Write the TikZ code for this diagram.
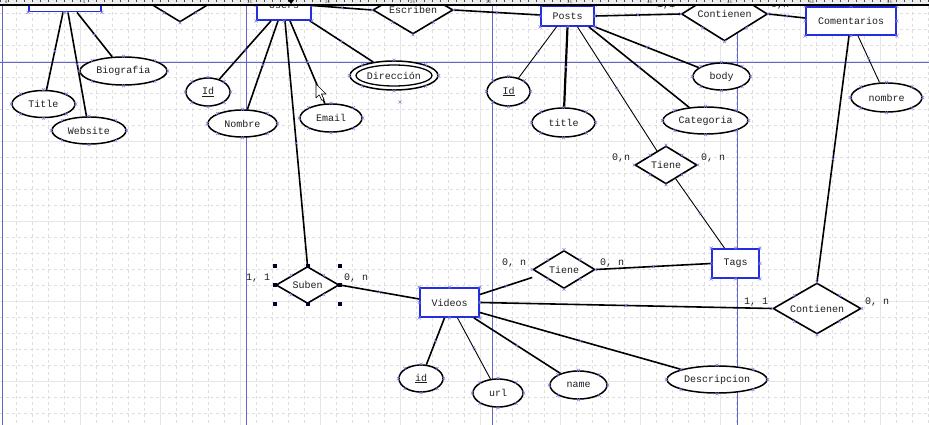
\documentclass[tikz,border=0pt]{standalone}
\usepackage{fontspec}
\setmonofont{Liberation Mono}
\usetikzlibrary{shapes.geometric,calc,decorations.markings}
\definecolor{entblue}{RGB}{35,45,225}
\definecolor{guide}{RGB}{100,100,205}
\definecolor{gridc}{RGB}{222,222,222}
\definecolor{gridm}{RGB}{230,230,230}
\definecolor{mkc}{RGB}{125,125,225}
\definecolor{txt}{RGB}{30,30,30}
\definecolor{rulerbg}{RGB}{238,238,238}

% small connection-point cross
\newcommand\xm[1]{\draw[mkc,line width=0.5pt] (#1) +(-1.5,-1.5) -- +(1.5,1.5) +(-1.5,1.5) -- +(1.5,-1.5);}
% crosses on the eight compass anchors of a shape
\newcommand\xmall[1]{\foreach \a in {north,south,east,west,north east,north west,south east,south west}{\xm{#1.\a}}}
% selection handle
\newcommand\hdl[1]{\fill[black!85!blue] (#1) +(-2,-2) rectangle +(2,2);}

\begin{document}
\begin{tikzpicture}[x=1pt,y=-1pt,
  font=\ttfamily\fontsize{10}{12}\selectfont, text=txt,
  entity/.style={rectangle,draw=entblue,line width=1.8pt,fill=white,inner sep=0pt},
  attr/.style={ellipse,draw=black,line width=1.5pt,fill=white,inner sep=0pt},
  rel/.style={diamond,draw=black,line width=1.6pt,fill=white,inner sep=0pt,aspect=1.6},
  midmark/.style={postaction={decorate},decoration={markings,mark=at position 0.5 with {\draw[mkc,line width=0.5pt] (-1.5,-1.5)--(1.5,1.5) (-1.5,1.5)--(1.5,-1.5);}}},
  link/.style={draw=black,line width=1.6pt,midmark},
  thinlink/.style={draw=black,line width=0.9pt,midmark},
  card/.style={inner sep=0pt},
]
\useasboundingbox (0,0) rectangle (929,425);
\begin{scope}
\clip (0,0) rectangle (929,425);
\fill[white] (0,0) rectangle (929,425);

% background grid
\foreach \x in {16,32,...,928} \draw[gridc,line width=0.5pt,dash pattern=on 3pt off 3pt] (\x,0) -- (\x,425);
\foreach \y in {13,29,...,424} \draw[gridc,line width=0.5pt,dash pattern=on 3pt off 3pt] (0,\y) -- (929,\y);
\foreach \x in {80,160,...,880} \draw[gridm,line width=0.7pt] (\x,0) -- (\x,425);
\foreach \y in {61,141,221,301,381} \draw[gridm,line width=0.7pt] (0,\y) -- (929,\y);

% guide lines
\foreach \x in {2.5,246,492,737} \draw[guide,line width=0.8pt] (\x,0) -- (\x,425);
\draw[guide,line width=0.8pt] (0,62) -- (929,62);

% entities
\node[entity,minimum width=72pt,minimum height=29pt] (e0) at (65,-3) {};
\node[entity,minimum width=54pt,minimum height=29pt] (users) at (284,5.5) {Users};
\node[entity,minimum width=53pt,minimum height=20pt] (posts) at (567.5,16) {Posts};
\node[entity,minimum width=90pt,minimum height=28pt] (coment) at (851,21) {Comentarios};
\node[entity,minimum width=59pt,minimum height=29pt] (videos) at (449.5,302.5) {Videos};
\node[entity,minimum width=47pt,minimum height=29pt] (tags) at (735.5,263.5) {Tags};

% relationships
\node[rel,minimum width=62pt,minimum height=38pt] (rtop) at (180,3) {Suben};
\node[rel,minimum width=80pt,minimum height=48pt] (escriben) at (413,10) {Escriben};
\node[rel,minimum width=86pt,minimum height=54pt] (contA) at (724.5,14) {Contienen};
\node[rel,minimum width=62pt,minimum height=38pt] (tieneA) at (666,165) {Tiene};
\node[rel,minimum width=62pt,minimum height=38pt] (tieneB) at (564,269.5) {Tiene};
\node[rel,minimum width=88pt,minimum height=51pt] (contB) at (817,308.5) {Contienen};
\node[rel,minimum width=63pt,minimum height=37pt] (suben) at (307.5,285) {Suben};

% attributes
\node[attr,minimum width=63pt,minimum height=27pt] (title) at (43.5,104) {Title};
\node[attr,minimum width=74pt,minimum height=27pt] (website) at (89,130.5) {Website};
\node[attr,minimum width=87pt,minimum height=28pt] (bio) at (123.5,71) {Biografia};
\node[attr,minimum width=44pt,minimum height=28pt] (idU) at (208,92) {\underline{Id}};
\node[attr,minimum width=69pt,minimum height=27pt] (nombreU) at (242.5,123.5) {Nombre};
\node[attr,minimum width=62pt,minimum height=28pt] (email) at (331,118) {Email};
\node[attr,minimum width=88pt,minimum height=29pt] (dir) at (394,75.5) {Dirección};
\draw[black,line width=1.3pt] (dir.center) ellipse (38 and 10.5);
\node[attr,minimum width=43pt,minimum height=29pt] (idP) at (508.5,91.5) {\underline{Id}};
\node[attr,minimum width=63pt,minimum height=29pt] (titleP) at (563.5,122.5) {title};
\node[attr,minimum width=57pt,minimum height=27pt] (body) at (721.5,76.5) {body};
\node[attr,minimum width=85pt,minimum height=27pt] (cat) at (705.5,120.5) {Categoria};
\node[attr,minimum width=71pt,minimum height=29pt] (nombreC) at (886.5,97.5) {nombre};
\node[attr,minimum width=44pt,minimum height=27pt] (idV) at (421,378.5) {\underline{id}};
\node[attr,minimum width=50pt,minimum height=28pt] (url) at (498,393) {url};
\node[attr,minimum width=57pt,minimum height=28pt] (name) at (578.5,385) {name};
\node[attr,minimum width=100pt,minimum height=27pt] (desc) at (717,379.5) {Descripcion};

% connectors
\draw[link] ([xshift=-2pt]e0.south) -- (title);
\draw[link] ([xshift=3pt]e0.south) -- (website);
\draw[link] ([xshift=12pt]e0.south) -- (bio);
\draw[link] ([xshift=-13pt]users.south) -- (idU);
\draw[link] ([xshift=-6pt]users.south) -- (nombreU);
\draw[link] ([xshift=1pt]users.south) -- (suben.north);
\draw[link] ([xshift=6pt]users.south) -- (email);
\draw[link] ([xshift=-2pt]users.south east) -- (dir);
\draw[link] (users.east) -- (escriben.west);
\draw[link] (escriben.east) -- ([yshift=1pt]posts.west);
\draw[link] (posts.east) -- (contA.west);
\draw[link] (contA.east) -- ([yshift=3pt]coment.west);
\draw[thinlink] ([xshift=-11pt]posts.south) -- (idP);
\draw[link,line width=2.2pt] (posts.south) -- (titleP);
\draw[link] (posts.south east) -- (body);
\draw[link] ([xshift=-6pt]posts.south east) -- (cat);
\draw[thinlink] ([xshift=10pt]posts.south) -- (tieneA);
\draw[thinlink] (tieneA) -- ([xshift=-11pt]tags.north);
\draw[thinlink] ([xshift=7pt]coment.south) -- (nombreC);
\draw[link] ([xshift=-2pt]coment.south) -- (contB.north);
\draw[link] (tags.west) -- (tieneB.east);
\draw[link] ([yshift=-8pt]tieneB.west) -- ([yshift=8pt]videos.east);
\draw[link] (videos.east) -- (contB.west);
\draw[link] (suben.east) -- ([yshift=3.5pt]videos.west);
\draw[link] ([xshift=-5pt]videos.south) -- (idV);
\draw[thinlink] ([xshift=8pt]videos.south) -- (url);
\draw[link] ([xshift=-6pt]videos.south east) -- (name);
\draw[link] ([yshift=-10pt]videos.east) -- (desc);

% cardinalities
\node[card] (cs1) at (258,278) {1, 1};
\node[card] (cs2) at (356,278) {0, n};
\node[card] (cb1) at (514,263) {0, n};
\node[card] (cb2) at (612,263) {0, n};
\node[card] (ca1) at (621,158) {0,n};
\node[card] (ca2) at (713,158) {0, n};
\node[card] (cc1) at (756,302) {1, 1};
\node[card] (cc2) at (877,302) {0, n};
\node[card] (ct1) at (666,5) {1,1};
\node[card] (ct2) at (780,5) {0,n};

% connection points
\foreach \n in {e0,users,posts,coment,videos,tags,rtop,escriben,contA,tieneA,tieneB,contB,suben,
  title,website,bio,idU,nombreU,email,dir,idP,titleP,body,cat,nombreC,idV,url,name,desc}{\xmall{\n}}
\xm{400,102}

% selection handles around the selected relationship
\hdl{suben.north} \hdl{suben.south} \hdl{suben.east} \hdl{suben.west}
\hdl{suben.west |- suben.north} \hdl{suben.east |- suben.north}
\hdl{suben.west |- suben.south} \hdl{suben.east |- suben.south}

% mouse pointer
\draw[fill=white,line width=0.6pt,line join=round] (316,84) -- ++(0,14) -- ++(3.2,-3.2) -- ++(2.6,5.6) -- ++(2.2,-1) -- ++(-2.6,-5.4) -- ++(4.6,0) -- cycle;

% ruler strip
\fill[rulerbg] (0,0) rectangle (929,5);
\foreach \x in {0,8,...,928} \draw[black!70,line width=0.4pt] (\x,0) -- (\x,2);
\foreach \x/\lab in {5/0,83/5,247/15,325/20,410/25,486/30,567/35,647/40,727/45,809/50,887/55}
  \node[anchor=west,inner sep=0pt,font=\ttfamily\fontsize{4}{4}\selectfont,text=black!75] (r\lab) at (\x,2.6) {\lab};
\fill[black] (288,0) -- (294,0) -- (291,4) -- cycle;
\draw[black,line width=1.4pt] (0,5) -- (929,5);
\end{scope}
\end{tikzpicture}
\end{document}
